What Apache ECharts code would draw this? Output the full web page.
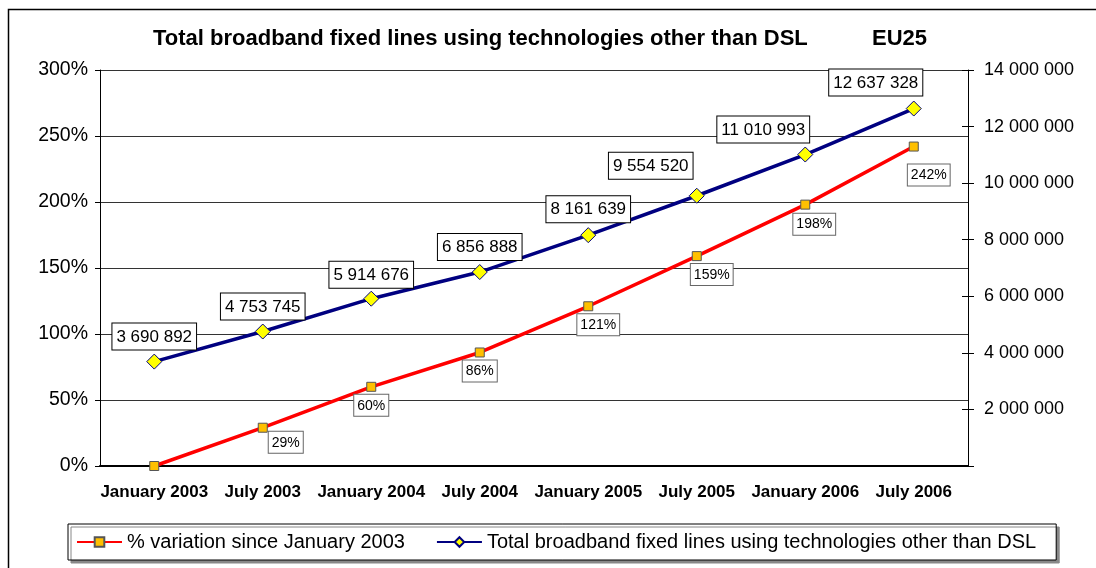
<!DOCTYPE html>
<html lang="en">

<head>
    <meta charset="UTF-8">
    <title>Total broadband fixed lines using technologies other than DSL</title>
    <script src="https://cdn.jsdelivr.net/npm/echarts@6/dist/echarts.min.js"></script>
    <style>
        html, body { margin: 0; padding: 0; background: #fff; }
    </style>
</head>

<body>
<div id="main" style="width: 1096px; height: 568px;"></div>
<script>
    // data
    const periods = ['January 2003', 'July 2003', 'January 2004', 'July 2004',
        'January 2005', 'July 2005', 'January 2006', 'July 2006'];
    const variationPct = [0, 29, 60, 86, 121, 159, 198, 242];
    const totalLines = [3690892, 4753745, 5914676, 6856888, 8161639, 9554520, 11010993, 12637328];

    // label nudges so the boxes sit where the original put them
    const blueLabelShift = [[0, 0], [0, 0], [0, 1], [0, 0], [0, -1], [-46, -5], [-42, 0], [-38, -1]];
    const redLabelShift = [[0, 0], [23, -4], [0, 0], [0, 0], [10, 0], [15, 0], [9, 1], [15, 10]];

    const font = 'Liberation Sans, Arial, sans-serif';

    function spaced(n) {
        return String(Math.round(n)).replace(/\B(?=(\d{3})+(?!\d))/g, ' ');
    }

    const chart = echarts.init(document.getElementById('main'));

    const option = {
        animation: false,
        backgroundColor: '#fff',
        textStyle: { fontFamily: font, color: '#000' },
        title: [
            {
                text: 'Total broadband fixed lines using technologies other than DSL',
                left: 148, top: 23,
                textStyle: { fontFamily: font, fontSize: 22, fontWeight: 'bold', color: '#000' }
            },
            {
                text: 'EU25',
                left: 867, top: 23,
                textStyle: { fontFamily: font, fontSize: 22, fontWeight: 'bold', color: '#000' }
            }
        ],
        graphic: [{
            type: 'rect',
            z: -10,
            shape: { x: 8.5, y: 9.5, width: 1200, height: 1200 },
            style: { fill: 'none', stroke: '#000', lineWidth: 1.5 }
        }],
        legend: {
            left: 68, top: 524,
            padding: [8, 20, 8, 8],
            itemWidth: 45, itemHeight: 12, itemGap: 31,
            backgroundColor: '#fff',
            borderColor: '#000', borderWidth: 1,
            shadowColor: '#888', shadowOffsetX: 3, shadowOffsetY: 3, shadowBlur: 0,
            textStyle: { fontFamily: font, fontSize: 20, color: '#000' },
            data: ['% variation since January 2003',
                'Total broadband fixed lines using technologies other than DSL']
        },
        grid: { left: 100, right: 128, top: 70, bottom: 102 },
        xAxis: {
            type: 'category',
            data: periods,
            boundaryGap: true,
            axisLine: { lineStyle: { color: '#000', width: 2 } },
            axisTick: { length: 5, lineStyle: { color: '#000' } },
            axisLabel: { fontFamily: font, fontSize: 17, fontWeight: 'bold', color: '#000', margin: 18, interval: 0 }
        },
        yAxis: [
            {
                type: 'value',
                min: 0, max: 300, interval: 50,
                position: 'left',
                axisLine: { show: true, lineStyle: { color: '#000' } },
                axisTick: { show: true, length: 5, lineStyle: { color: '#000' } },
                axisLabel: { fontFamily: font, fontSize: 19.5, color: '#000', margin: 12, formatter: '{value}%' },
                splitLine: { show: true, lineStyle: { color: '#333', width: 1 } }
            },
            {
                type: 'value',
                min: 0, max: 14000000, interval: 2000000,
                position: 'right',
                axisLine: { show: true, lineStyle: { color: '#000' } },
                axisTick: { show: true, length: 6, lineStyle: { color: '#000' } },
                axisLabel: {
                    fontFamily: font, fontSize: 18, color: '#000', margin: 16,
                    formatter: v => v === 0 ? '' : spaced(v)
                },
                splitLine: { show: false }
            },
            {
                // inner half of the crossing ticks on the right axis
                type: 'value',
                min: 0, max: 14000000, interval: 2000000,
                position: 'right',
                axisLine: { show: false },
                axisTick: { show: true, inside: true, length: 6, lineStyle: { color: '#000' } },
                axisLabel: { show: false },
                splitLine: { show: false }
            }
        ],
        series: [
            {
                name: '% variation since January 2003',
                type: 'line',
                yAxisIndex: 0,
                z: 3,
                symbol: 'rect',
                symbolSize: 9,
                lineStyle: { color: '#ff0000', width: 3.5 },
                itemStyle: { color: '#ffc000', borderColor: '#555', borderWidth: 1 },
                data: variationPct.map((v, i) => ({
                    value: v,
                    label: {
                        show: i > 0,
                        position: 'bottom',
                        distance: 3,
                        offset: redLabelShift[i],
                        formatter: p => p.value + '%',
                        fontFamily: font, fontSize: 14, color: '#000',
                        backgroundColor: '#fff',
                        borderColor: '#666', borderWidth: 1,
                        padding: [4, 3, 3, 3]
                    }
                }))
            },
            {
                name: 'Total broadband fixed lines using technologies other than DSL',
                type: 'line',
                yAxisIndex: 1,
                z: 2,
                symbol: 'diamond',
                symbolSize: [15, 15],
                lineStyle: { color: '#000080', width: 3.5 },
                itemStyle: { color: '#ffff00', borderColor: '#000080', borderWidth: 1 },
                data: totalLines.map((v, i) => ({
                    value: v,
                    label: {
                        show: true,
                        position: 'top',
                        distance: 4,
                        offset: blueLabelShift[i],
                        formatter: p => spaced(p.value),
                        fontFamily: font, fontSize: 17, color: '#000',
                        backgroundColor: '#fff',
                        borderColor: '#000', borderWidth: 1,
                        padding: [5, 4, 4, 4]
                    }
                }))
            }
        ]
    };

    chart.setOption(option);
</script>
</body>

</html>
